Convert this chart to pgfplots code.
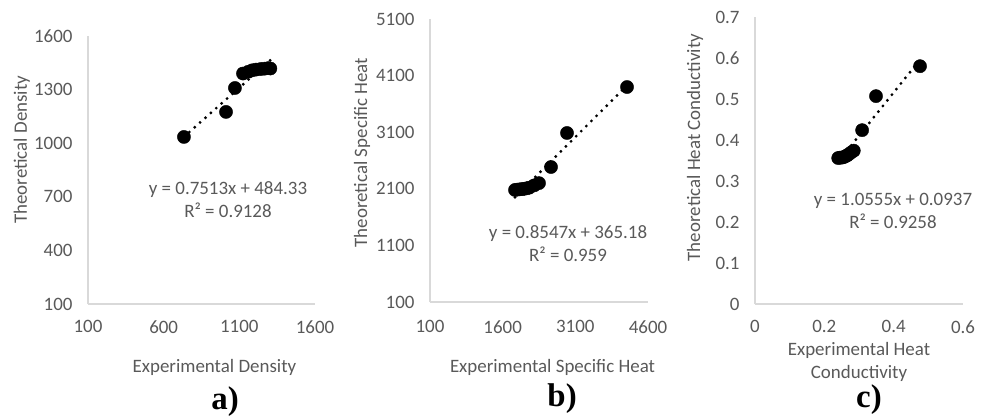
\documentclass[border=0pt]{standalone}
\usepackage{fontspec}
\setmainfont{Carlito}
\newfontfamily\panelfont{Liberation Serif}
\usepackage{pgfplots}
\pgfplotsset{compat=1.18}
\definecolor{txtgray}{HTML}{595959}
\definecolor{axgray}{HTML}{D9D9D9}

\pgfplotsset{
  xlpanel/.style={
    scale only axis, clip=false,
    axis lines=left, axis line style={draw=axgray, line width=1.3bp, -},
    major tick length=0pt, tick style={draw=none},
    font=\fontsize{19}{23}\selectfont, color=txtgray,
    tick label style={text=txtgray, font=\fontsize{19}{23}\selectfont},
    label style={text=txtgray, font=\fontsize{19}{23}\selectfont},
    /pgf/number format/assume math mode=true,
    /pgf/number format/1000 sep={},
    scaled ticks=false,
    yticklabel style={xshift=-12bp},
  },
  pts/.style={only marks, mark=*, mark size=6.6bp, mark options={fill=black, draw=black}},
  trend/.style={black, line width=3.2bp, line cap=round, dash pattern=on 0bp off 7.2bp, no marks},
}
\tikzset{panel/.style={text=black, font=\panelfont\bfseries\fontsize{33}{35}\selectfont}}

\begin{document}
\begin{tikzpicture}
\path[use as bounding box] (0bp,0bp) rectangle (989bp,419bp);

% a) density
\begin{axis}[xlpanel, at={(88bp,115bp)}, anchor=south west,
  width=227bp, height=268bp,
  xmin=100, xmax=1600, ymin=100, ymax=1600,
  xtick={100,600,1100,1600}, ytick={100,400,700,1000,1300,1600},
  xticklabel style={yshift=-13bp},
  xlabel={Experimental Density}, ylabel={Theoretical Density},
  xlabel style={at={(axis description cs:0.557,-0.235)}, anchor=center},
  ylabel style={at={(axis description cs:-0.291,0.575)}, anchor=center}]
\addplot[trend] coordinates {(734,1035.8) (1309,1467.8)};
\addplot[pts] coordinates {
  (734,1035) (1012,1175) (1071,1309) (1124,1390) (1160,1400) (1185,1408)
  (1210,1412) (1240,1415) (1265,1417) (1290,1420) (1305,1418)};
\node[align=center, text=txtgray] at (axis cs:1025,685) {y = 0.7513x + 484.33\\R² = 0.9128};
\node[panel] at (axis description cs:0.604,-0.366) {a)};
\end{axis}

% b) specific heat
\begin{axis}[xlpanel, at={(430bp,117bp)}, anchor=south west,
  width=218bp, height=283bp,
  xmin=100, xmax=4600, ymin=100, ymax=5100,
  xtick={100,1600,3100,4600}, ytick={100,1100,2100,3100,4100,5100},
  xticklabel style={yshift=-15bp},
  xlabel={Experimental Specific Heat}, ylabel={Theoretical Specific Heat},
  xlabel style={at={(axis description cs:0.562,-0.233)}, anchor=center},
  ylabel style={at={(axis description cs:-0.312,0.528)}, anchor=center}]
\addplot[trend] coordinates {(1855,1950.7) (4167,3926.6)};
\addplot[pts] coordinates {
  (1855,2080) (1900,2085) (1950,2090) (2000,2095) (2050,2100) (2100,2110)
  (2150,2120) (2250,2160) (2350,2200) (2598,2485) (2928,3086) (4167,3898)};
\node[align=center, text=txtgray] at (axis cs:2949,1125) {y = 0.8547x + 365.18\\R² = 0.959};
\node[panel] at (axis description cs:0.606,-0.343) {b)};
\end{axis}

% c) heat conductivity
\begin{axis}[xlpanel, at={(755bp,115bp)}, anchor=south west,
  width=208bp, height=287bp,
  xmin=0, xmax=0.6, ymin=0, ymax=0.7,
  xtick={0,0.2,0.4,0.6}, ytick={0,0.1,0.2,0.3,0.4,0.5,0.6,0.7},
  xticklabel style={yshift=-13bp, /pgf/number format/.cd, fixed, precision=1},
  yticklabel style={/pgf/number format/.cd, fixed, precision=1},
  xlabel={Experimental Heat\\Conductivity}, ylabel={Theoretical Heat Conductivity},
  xlabel style={at={(axis description cs:0.5,-0.202)}, anchor=center, align=center},
  ylabel style={at={(axis description cs:-0.288,0.545)}, anchor=center}]
\addplot[trend] coordinates {(0.239,0.346) (0.476,0.596)};
\addplot[pts] coordinates {
  (0.240,0.356) (0.245,0.357) (0.250,0.357) (0.255,0.358) (0.260,0.360)
  (0.265,0.362) (0.270,0.365) (0.278,0.370) (0.285,0.374)
  (0.309,0.424) (0.349,0.507) (0.476,0.580)};
\node[align=center, text=txtgray] at (axis cs:0.398,0.228) {y = 1.0555x + 0.0937\\R² = 0.9258};
\node[panel] at (axis description cs:0.548,-0.334) {c)};
\end{axis}
\end{tikzpicture}
\end{document}
